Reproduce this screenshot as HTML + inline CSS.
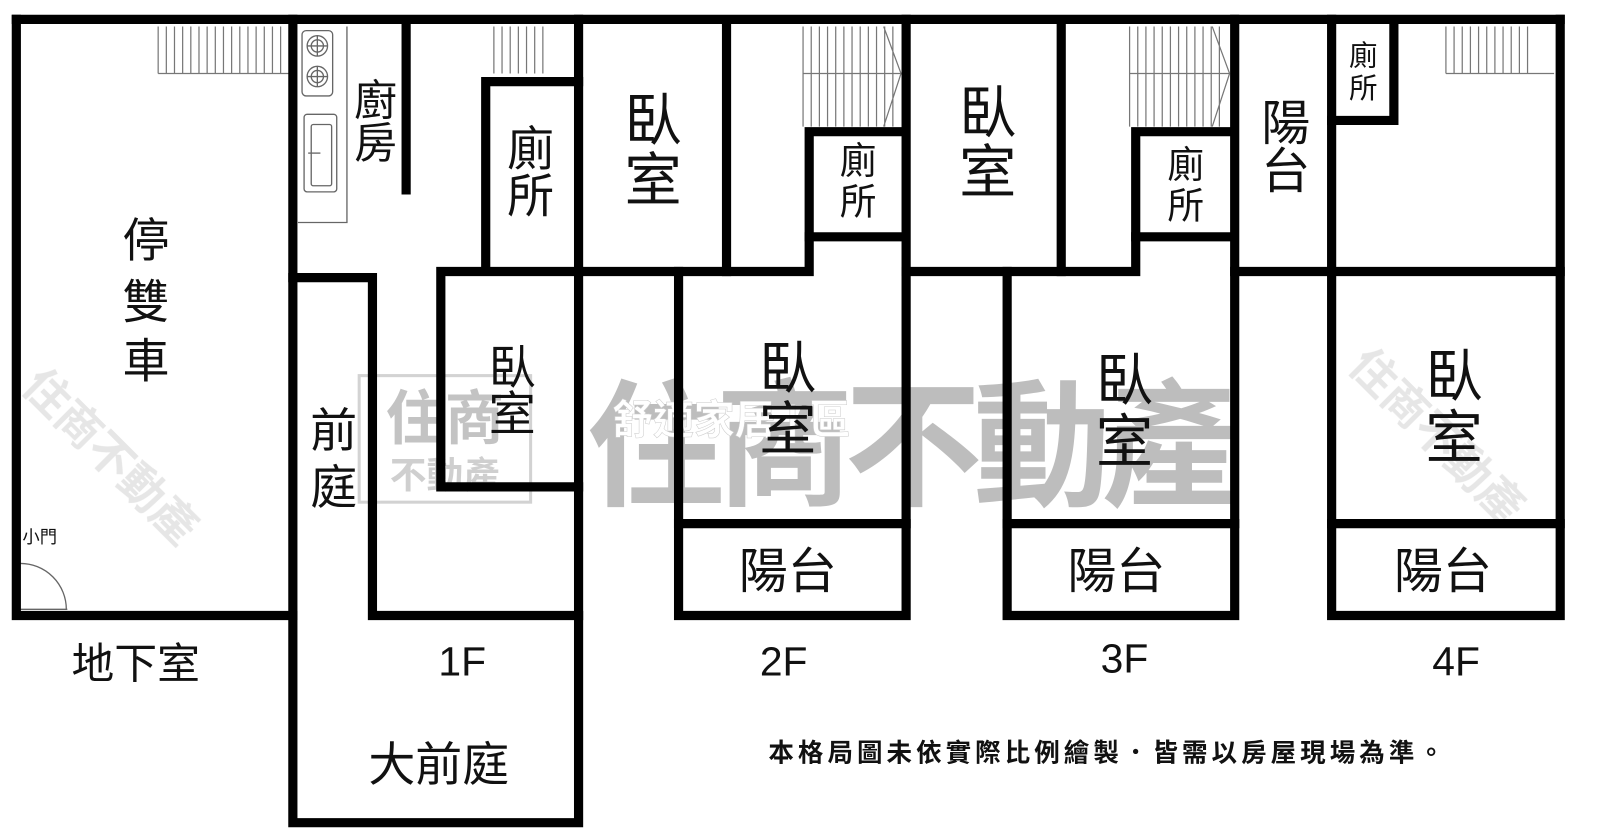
<!DOCTYPE html>
<html><head><meta charset="utf-8"><style>
html,body{margin:0;padding:0;background:#fff;width:1600px;height:839px;overflow:hidden}
svg{display:block}
text{font-family:"Liberation Sans","Noto Sans CJK TC",sans-serif;fill:#111}
</style></head><body>
<svg width="1600" height="839" viewBox="0 0 1568 822" preserveAspectRatio="none" xmlns="http://www.w3.org/2000/svg">
<!-- watermark -->
<g opacity="0.75">
<rect x="352" y="368" width="168" height="124" fill="none" stroke="#c4c4c4" stroke-width="3"/>
<text x="436" y="430" font-size="58" font-weight="bold" text-anchor="middle" style="fill:#b0b0b0">住商</text>
<text x="436" y="478" font-size="36" font-weight="bold" text-anchor="middle" style="fill:#c0c0c0">不動產</text>
<text x="895" y="485" font-size="135" font-weight="bold" text-anchor="middle" textLength="640" style="fill:#a8a8a8">住商不動產</text>
</g>
<g opacity="0.25" font-weight="bold" font-size="44">
<text transform="translate(20,380) rotate(45)" style="fill:#999">住商不動產</text>
<text transform="translate(1320,360) rotate(45)" style="fill:#999">住商不動產</text>
</g>
<text x="600" y="425" font-size="40" font-weight="bold" style="fill:#fff;stroke:#ccc;stroke-width:0.5">舒適家居 | 區</text>

<!-- stairs -->
<g stroke="#777" stroke-width="1.2" fill="none">
<path d="M155 26V72M163 26V72M171 26V72M179 26V72M187 26V72M195 26V72M203 26V72M211 26V72M219 26V72M227 26V72M235 26V72M243 26V72M251 26V72M259 26V72M267 26V72M275 26V72M155 72H283"/>
<path d="M484 26V72M492 26V72M500 26V72M508 26V72M516 26V72M524 26V72M532 26V72"/>
<path d="M787 26V124M795 26V124M803 26V124M811 26V124M819 26V124M827 26V124M835 26V124M843 26V124M851 26V124M859 26V124M867 26V124M875 26V124M787 72H883M866 26L883 72L866 124"/>
<path d="M1107 26V124M1115 26V124M1123 26V124M1131 26V124M1139 26V124M1147 26V124M1155 26V124M1163 26V124M1171 26V124M1179 26V124M1187 26V124M1195 26V124M1107 72H1205M1188 26L1205 72L1188 124"/>
<path d="M1417 26V72M1425 26V72M1433 26V72M1441 26V72M1449 26V72M1457 26V72M1465 26V72M1473 26V72M1481 26V72M1489 26V72M1497 26V72M1417 72H1523"/>
</g>
<!-- kitchen fixtures -->
<g stroke="#666" stroke-width="1.3" fill="none">
<path d="M292 218H340V26"/>
<rect x="296" y="30" width="30" height="64" rx="4"/>
<circle cx="311" cy="45" r="10"/><circle cx="311" cy="45" r="6"/><path d="M301 45H321M311 35V55"/>
<circle cx="311" cy="75" r="10"/><circle cx="311" cy="75" r="6"/><path d="M301 75H321M311 65V85"/>
<rect x="298" y="112" width="32" height="76" rx="3"/>
<rect x="305" y="122" width="20" height="60" rx="2"/>
<path d="M302 150H314"/>
<path d="M20 552A45 45 0 0 1 65 597"/>
<path d="M20 597H66"/>
</g>

<!-- walls -->
<g stroke="#000" stroke-width="9" fill="none" stroke-linecap="square">
<path d="M16 19H1529"/>
<path d="M16 19V603H287"/>
<path d="M287 19V806H567V19"/>
<path d="M398 22V186"/>
<path d="M476 262V80H567"/>
<path d="M287 272H365V603H567"/>
<path d="M432 266V477H567M432 266H567"/>
<path d="M712 22V266"/>
<path d="M567 266H793V129H886"/>
<path d="M793 232H886"/>
<path d="M665 266V603H888V19"/>
<path d="M665 513H888"/>
<path d="M1040 22V266"/>
<path d="M888 266H1113V129H1208"/>
<path d="M1113 232H1208"/>
<path d="M987 266V603H1210V19"/>
<path d="M987 513H1210"/>
<path d="M1305 19V603H1529V19"/>
<path d="M1210 266H1529"/>
<path d="M1305 118H1366V22"/>
<path d="M1305 513H1529"/>
</g>

<!-- labels -->
<g text-anchor="middle">
<g font-size="46">
<text x="143" y="252">停</text><text x="143" y="312">雙</text><text x="143" y="370">車</text>
<text x="520" y="162">廁</text><text x="520" y="208">所</text>
<text x="502" y="376">臥</text><text x="502" y="422">室</text>
<text x="327" y="438">前</text><text x="327" y="494">庭</text>
<text x="430" y="765">大前庭</text>
</g>
<g font-size="42">
<text x="368" y="113">廚</text><text x="368" y="155">房</text>
<text x="133" y="665">地下室</text>
</g>
<g font-size="56">
<text x="640" y="137">臥</text><text x="640" y="196">室</text>
<text x="968" y="130">臥</text><text x="968" y="188">室</text>
<text x="772" y="380">臥</text><text x="772" y="440">室</text>
<text x="1102" y="392">臥</text><text x="1102" y="452">室</text>
<text x="1425" y="388">臥</text><text x="1425" y="448">室</text>
</g>
<g font-size="48">
<text x="1260" y="137">陽</text><text x="1260" y="184">台</text>
<text x="772" y="576">陽台</text><text x="1094" y="576">陽台</text><text x="1414" y="576">陽台</text>
</g>
<g font-size="40">
<text x="453" y="662">1F</text><text x="768" y="662">2F</text><text x="1102" y="659">3F</text><text x="1427" y="662">4F</text>
</g>
<g font-size="36">
<text x="841" y="170">廁</text><text x="841" y="210">所</text>
<text x="1162" y="174">廁</text><text x="1162" y="214">所</text>
</g>
<g font-size="28">
<text x="1336" y="64">廁</text><text x="1336" y="96">所</text>
</g>
</g>
<text x="22" y="532" font-size="17">小門</text>
<text x="753" y="746" font-size="25" textLength="662" style="font-weight:bold">本格局圖未依實際比例繪製．皆需以房屋現場為準。</text>
</svg>
</body></html>
